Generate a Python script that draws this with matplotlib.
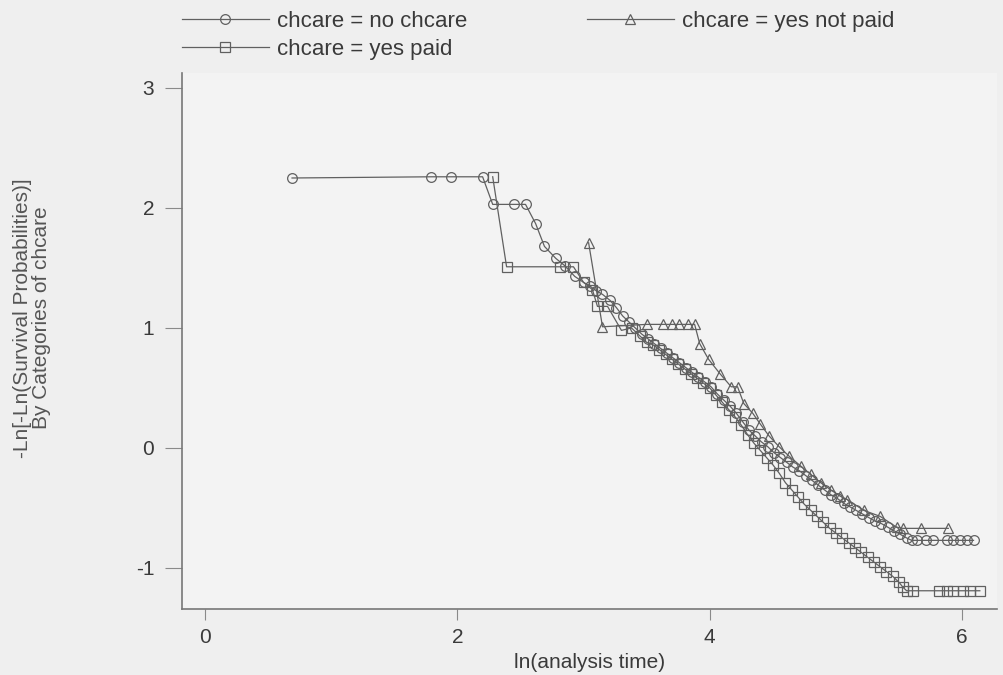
import matplotlib
matplotlib.use("Agg")
import matplotlib.pyplot as plt

# -ln(-ln S) vs ln(t)
no_x = [0.69, 1.79, 1.95, 2.20, 2.28, 2.45, 2.54, 2.62, 2.69, 2.78, 2.85, 2.93, 3.00, 3.05,
        3.10, 3.15, 3.21, 3.26, 3.31, 3.36, 3.41, 3.46, 3.51, 3.56, 3.61, 3.66, 3.71, 3.76,
        3.81, 3.86, 3.91, 3.96, 4.01, 4.06, 4.11, 4.16, 4.21, 4.26, 4.31, 4.36, 4.41, 4.46,
        4.51, 4.56, 4.61, 4.66, 4.71, 4.76, 4.81, 4.86, 4.91, 4.96, 5.01, 5.06, 5.11, 5.16,
        5.21, 5.26, 5.31, 5.36, 5.41, 5.46, 5.51, 5.56, 5.60, 5.64, 5.71, 5.77, 5.88, 5.93,
        5.98, 6.04, 6.09]
no_y = [2.25, 2.26, 2.26, 2.26, 2.03, 2.03, 2.03, 1.87, 1.68, 1.58, 1.52, 1.43, 1.38, 1.35,
        1.31, 1.28, 1.23, 1.17, 1.10, 1.05, 1.00, 0.95, 0.91, 0.87, 0.83, 0.79, 0.75, 0.71,
        0.67, 0.63, 0.59, 0.55, 0.51, 0.45, 0.40, 0.35, 0.29, 0.22, 0.15, 0.10, 0.05, 0.01,
        -0.04, -0.08, -0.12, -0.16, -0.19, -0.23, -0.27, -0.31, -0.35, -0.39, -0.42, -0.46, -0.49, -0.52,
        -0.55, -0.58, -0.61, -0.63, -0.66, -0.69, -0.72, -0.75, -0.77, -0.77, -0.77, -0.77, -0.77, -0.77,
        -0.77, -0.77, -0.77]

paid_x = [2.28, 2.39, 2.81, 2.92, 3.00, 3.07, 3.11, 3.19, 3.30, 3.38, 3.45, 3.50, 3.55, 3.60,
          3.65, 3.70, 3.75, 3.80, 3.85, 3.90, 3.95, 4.00, 4.05, 4.10, 4.15, 4.20, 4.25, 4.30,
          4.35, 4.40, 4.45, 4.50, 4.55, 4.60, 4.65, 4.70, 4.75, 4.80, 4.85, 4.90, 4.95, 5.00,
          5.05, 5.10, 5.15, 5.20, 5.25, 5.30, 5.35, 5.40, 5.45, 5.50, 5.53, 5.56, 5.61, 5.82,
          5.88, 5.93, 6.01, 6.06, 6.14]
paid_y = [2.26, 1.51, 1.51, 1.51, 1.38, 1.32, 1.18, 1.18, 0.98, 1.00, 0.93, 0.88, 0.86, 0.82,
          0.78, 0.74, 0.70, 0.66, 0.62, 0.58, 0.54, 0.50, 0.44, 0.38, 0.32, 0.26, 0.19, 0.11,
          0.04, -0.02, -0.08, -0.14, -0.21, -0.29, -0.35, -0.41, -0.47, -0.52, -0.57, -0.62, -0.67, -0.71,
          -0.75, -0.79, -0.83, -0.87, -0.91, -0.95, -0.99, -1.03, -1.07, -1.12, -1.16, -1.19, -1.19, -1.19,
          -1.19, -1.19, -1.19, -1.19, -1.19]

notpaid_x = [3.04, 3.15, 3.50, 3.63, 3.70, 3.76, 3.83, 3.88, 3.92, 3.99, 4.08, 4.17, 4.22, 4.27,
             4.34, 4.40, 4.47, 4.55, 4.63, 4.72, 4.80, 4.88, 4.96, 5.03, 5.09, 5.22, 5.35, 5.48,
             5.53, 5.67, 5.89]
notpaid_y = [1.71, 1.01, 1.03, 1.03, 1.03, 1.03, 1.03, 1.03, 0.87, 0.74, 0.62, 0.51, 0.51, 0.37,
             0.29, 0.20, 0.10, 0.01, -0.07, -0.15, -0.22, -0.29, -0.35, -0.40, -0.43, -0.52, -0.57, -0.66,
             -0.67, -0.67, -0.67]

x_ticks = [0, 2, 4, 6]
y_ticks = [-1, 0, 1, 2, 3]

plt.rcParams["font.family"] = ["Liberation Sans", "DejaVu Sans"]
plt.rcParams["axes.unicode_minus"] = False
GREY = "#606060"
TXT = "#3a3a3a"

fig = plt.figure(figsize=(10.04, 6.75), dpi=100, facecolor="#efefef")
ax = fig.add_axes([182 / 1004, 1 - 609 / 675, (997 - 182) / 1004, (609 - 73) / 675])
ax.set_facecolor("#f3f3f3")

kw = dict(color=GREY, lw=0.9, mfc="none", mec=GREY, mew=0.9)
h_no, = ax.plot(no_x, no_y, marker="o", ms=7, label="chcare = no chcare", **kw)
h_paid, = ax.plot(paid_x, paid_y, marker="s", ms=6.5, label="chcare = yes paid", **kw)
h_np, = ax.plot(notpaid_x, notpaid_y, marker="^", ms=7, label="chcare = yes not paid", **kw)

ax.set_xlim(-0.182, 6.276)
ax.set_ylim(-1.342, 3.125)
ax.set_xticks(x_ticks)
ax.set_yticks(y_ticks)
for s in ("top", "right"):
    ax.spines[s].set_visible(False)
for s in ("left", "bottom"):
    ax.spines[s].set_color("#777777")
    ax.spines[s].set_linewidth(1.2)
ax.tick_params(axis="both", colors="#8a8a8a", labelcolor=TXT, labelsize=15, width=0.8)
ax.tick_params(axis="y", length=12, pad=8)
ax.tick_params(axis="x", length=8, pad=6)

ax.set_xlabel("ln(analysis time)", fontsize=15, color=TXT, labelpad=4)
fig.text(32 / 1004, 1 - 318 / 675, "-Ln[-Ln(Survival Probabilities)]\nBy Categories of chcare",
         rotation=90, ha="center", va="center", multialignment="center",
         fontsize=15, color="#555555", linespacing=0.95)

fig.legend(handles=[h_no, h_paid, h_np], ncol=2, loc="upper left",
           bbox_to_anchor=(182 / 1004, 1 - 11 / 675), frameon=False, fontsize=16,
           handlelength=3.9, handletextpad=0.36, columnspacing=5.4, labelspacing=0.3,
           borderpad=0, borderaxespad=0, labelcolor=TXT)

fig.savefig("out.png", dpi=100, facecolor=fig.get_facecolor())
